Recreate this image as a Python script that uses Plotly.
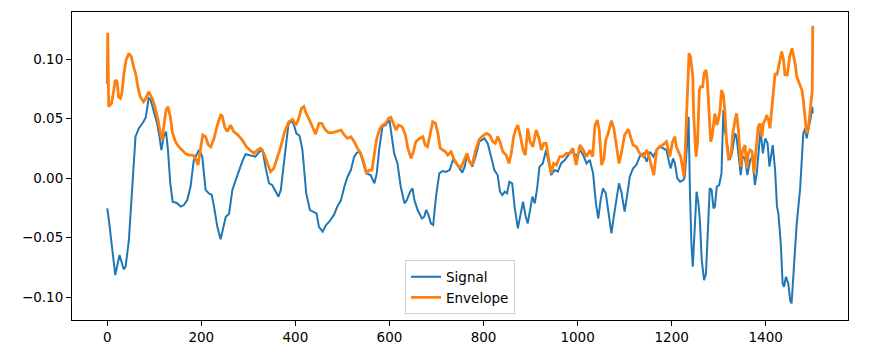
import plotly.graph_objects as go

# ---- data ----
sig_x = [0, 3, 17, 26, 35, 39, 46, 53, 60, 67, 77, 82, 88, 92, 99, 106, 111, 115, 120, 125, 129, 134, 139, 148,
         156, 163, 170, 177, 184, 188, 195, 202, 209, 216, 222, 227, 234, 241, 246, 252, 259, 266, 273, 280, 287,
         294, 305, 315, 323, 330, 337, 344, 351, 358, 364, 369, 376, 385, 392, 397, 402, 409, 415, 419, 423, 431,
         440, 445, 450, 458, 465, 472, 482, 489, 497, 504, 511, 518, 525, 531, 537, 544, 551, 560, 568, 573, 578,
         585, 592, 600, 605, 610, 617, 624, 632, 637, 644, 649, 653, 660, 669, 674, 678, 683, 688, 693, 699, 706,
         713, 720, 728, 735, 742, 749, 755, 760, 765, 770, 776, 783, 791, 802, 809, 816, 823, 830, 835, 840, 845,
         850, 855, 861, 866, 873, 878, 884, 889, 894, 899, 904, 909, 914, 919, 926, 933, 939, 944, 951, 958, 965,
         973, 983, 990, 997, 1005, 1012, 1019, 1026, 1033, 1039, 1044, 1049, 1054, 1060, 1065, 1072, 1077, 1083,
         1088, 1093, 1100, 1105, 1111, 1118, 1125, 1132, 1140, 1147, 1154, 1161, 1168, 1175, 1182, 1189, 1195,
         1198, 1203, 1207, 1212, 1218, 1225, 1228, 1233, 1236, 1239, 1242, 1245, 1249, 1253, 1257, 1260, 1264,
         1269, 1273, 1278, 1281, 1285, 1289, 1292, 1296, 1301, 1306, 1310, 1313, 1317, 1323, 1328, 1335, 1338,
         1342, 1347, 1351, 1356, 1361, 1367, 1372, 1377, 1381, 1387, 1389, 1394, 1399, 1404, 1408, 1415, 1420,
         1424, 1427, 1432, 1436, 1439, 1443, 1448, 1452, 1455, 1459, 1466, 1473, 1480, 1484, 1487, 1495, 1499, 1500]
sig_y = [-0.0255, -0.034, -0.0815, -0.0647, -0.0767, -0.0745, -0.052, -0.010, 0.0347, 0.0417, 0.0473, 0.0512,
         0.067, 0.066, 0.057, 0.0459, 0.0347, 0.0235, 0.0347, 0.039, 0.0235, -0.0045, -0.0199, -0.021, -0.024,
         -0.0227, -0.0185, -0.0073, 0.0151, 0.018, 0.0235, 0.018, -0.010, -0.0129, -0.014, -0.024, -0.041,
         -0.0515, -0.0437, -0.0325, -0.030, -0.010, -0.0017, 0.0067, 0.0137, 0.020, 0.0188, 0.018, 0.022, 0.0235,
         0.0081, -0.0045, -0.006, -0.0115, -0.0157, -0.010, 0.0123, 0.0445, 0.0487, 0.0445, 0.0375, 0.0353,
         0.0235, 0.0067, -0.0129, -0.0269, -0.0283, -0.0297, -0.041, -0.0451, -0.0395, -0.0367, -0.031, -0.024,
         -0.0185, -0.0073, 0.0011, 0.0067, 0.018, 0.0213, 0.0221, 0.0123, 0.0039, 0.0025, -0.0045, 0.0039, 0.0235,
         0.0431, 0.0445, 0.0487, 0.036, 0.0207, 0.0123, -0.0073, -0.0213, -0.0185, -0.0115, -0.0087, -0.0185,
         -0.0269, -0.034, -0.0325, -0.0269, -0.031, -0.0381, -0.0395, -0.0157, 0.0039, 0.0059, 0.0051, 0.0067,
         0.0151, 0.0123, 0.0081, 0.0045, 0.0095, 0.0193, 0.0151, 0.0095, 0.018, 0.0305, 0.0333, 0.0291, 0.018,
         0.0067, 0.0025, -0.0115, -0.0143, -0.0115, -0.0129, -0.0031, -0.0045, -0.024, -0.0423, -0.0325, -0.0199,
         -0.031, -0.0381, -0.0269, -0.0157, -0.0213, -0.0087, 0.0095, 0.0123, 0.0235, 0.0123, 0.0025, 0.0067,
         0.0053, 0.0123, 0.0151, 0.0207, 0.0221, 0.018, 0.0235, 0.0193, 0.0123, 0.0151, 0.0039, -0.0213, -0.034,
         -0.0185, -0.0087, -0.0129, -0.0269, -0.0465, -0.0325, -0.0157, -0.0045, -0.0115, -0.0283, -0.0157,
         0.0011, 0.0081, 0.0109, 0.018, 0.0207, 0.0137, 0.0221, 0.018, 0.0235, 0.0263, 0.025, 0.0235, 0.0123,
         0.0081, 0.0165, 0.0123, -0.0003, -0.0031, -0.0017, 0.0011, 0.0291, 0.0515, -0.0129, -0.055, -0.0746,
         -0.041, -0.0115, -0.0213, -0.0353, -0.069, -0.0858, -0.0802, -0.041, -0.0087, -0.0101, -0.0255, -0.0241,
         -0.0073, -0.0059, 0.0039, 0.0571, 0.0403, 0.0319, 0.0151, 0.0207, 0.0375, 0.0347, 0.018, 0.0025, 0.018,
         0.0165, 0.0025, 0.0151, 0.018, -0.0059, 0.0039, 0.0375, 0.0403, 0.0207, 0.0333, 0.0291, 0.0095, 0.0277,
         0.0067, -0.024, -0.0297, -0.055, -0.0886, -0.0914, -0.083, -0.0886, -0.1026, -0.1054, -0.0802, -0.0381,
         -0.0101, 0.0375, 0.0417, 0.0333, 0.0487, 0.0599, 0.0543]

env_x = [0, 1, 3, 9, 14, 17, 21, 24, 28, 31, 35, 40, 46, 51, 56, 61, 65, 70, 77, 82, 88, 92, 97, 102, 108, 113,
         117, 120, 125, 129, 134, 139, 145, 152, 159, 166, 173, 182, 188, 193, 198, 203, 209, 215, 220, 227, 234,
         241, 244, 250, 255, 262, 269, 278, 287, 296, 303, 312, 319, 326, 333, 340, 347, 354, 362, 369, 376, 386,
         394, 401, 406, 413, 418, 423, 430, 438, 443, 450, 456, 463, 470, 479, 489, 497, 504, 511, 518, 525, 532,
         539, 546, 551, 557, 563, 568, 573, 580, 585, 592, 598, 603, 608, 614, 619, 627, 634, 639, 646, 651, 656,
         664, 671, 676, 681, 686, 692, 698, 703, 708, 713, 719, 724, 731, 738, 745, 752, 760, 765, 770, 776, 783,
         791, 798, 806, 813, 820, 825, 830, 835, 841, 848, 854, 859, 864, 868, 873, 878, 884, 889, 894, 899, 905,
         912, 918, 923, 928, 933, 939, 944, 949, 955, 962, 969, 976, 983, 990, 997, 1005, 1012, 1019, 1026, 1032,
         1037, 1042, 1046, 1051, 1056, 1060, 1065, 1072, 1077, 1083, 1088, 1093, 1100, 1108, 1113, 1118, 1125,
         1132, 1140, 1147, 1152, 1157, 1162, 1168, 1174, 1181, 1189, 1193, 1196, 1202, 1207, 1210, 1216, 1219,
         1223, 1226, 1228, 1232, 1235, 1237, 1240, 1245, 1247, 1252, 1255, 1259, 1262, 1266, 1269, 1273, 1276,
         1280, 1283, 1286, 1289, 1292, 1296, 1299, 1303, 1306, 1310, 1313, 1317, 1321, 1326, 1330, 1335, 1338,
         1342, 1347, 1351, 1356, 1360, 1363, 1367, 1371, 1375, 1379, 1384, 1388, 1392, 1395, 1399, 1402, 1406,
         1409, 1413, 1416, 1420, 1424, 1427, 1431, 1434, 1438, 1441, 1446, 1451, 1456, 1459, 1463, 1466, 1470,
         1473, 1477, 1480, 1484, 1487, 1491, 1495, 1499, 1500]
env_y = [0.079, 0.122, 0.060, 0.0627, 0.074, 0.0824, 0.081, 0.0683, 0.067, 0.0711, 0.0866, 0.0992, 0.1048, 0.102,
         0.0936, 0.0866, 0.0768, 0.0683, 0.0641, 0.067, 0.0725, 0.0697, 0.0655, 0.0585, 0.0487, 0.0375, 0.0319,
         0.0431, 0.0571, 0.060, 0.0515, 0.0375, 0.0305, 0.0263, 0.0235, 0.0207, 0.0193, 0.0193, 0.0165, 0.0109,
         0.0235, 0.0361, 0.0347, 0.0277, 0.0263, 0.0333, 0.0445, 0.0529, 0.0525, 0.0425, 0.039, 0.0445, 0.039,
         0.0361, 0.0319, 0.0263, 0.0235, 0.0207, 0.0235, 0.025, 0.0207, 0.0123, 0.0053, 0.0081, 0.018, 0.0263,
         0.0375, 0.0473, 0.0493, 0.0445, 0.0487, 0.0585, 0.060, 0.0543, 0.0487, 0.0417, 0.0369, 0.0459, 0.0459,
         0.0409, 0.0381, 0.0381, 0.039, 0.0403, 0.0361, 0.0333, 0.0347, 0.0305, 0.025, 0.0207, 0.0123, 0.0039,
         0.0067, 0.0067, 0.0207, 0.0333, 0.0417, 0.0445, 0.0459, 0.0501, 0.051, 0.0459, 0.0403, 0.0445, 0.0431,
         0.0361, 0.025, 0.0165, 0.0221, 0.0305, 0.0333, 0.0347, 0.0277, 0.0263, 0.0361, 0.0473, 0.0459, 0.0375,
         0.025, 0.0235, 0.0221, 0.0193, 0.0221, 0.0151, 0.0109, 0.0087, 0.0165, 0.0207, 0.0137, 0.0109, 0.0235,
         0.0325, 0.0353, 0.0375, 0.0361, 0.0305, 0.0291, 0.0347, 0.0305, 0.0221, 0.0193, 0.0123, 0.0207, 0.0347,
         0.0403, 0.0445, 0.0361, 0.0235, 0.0193, 0.0417, 0.0305, 0.0263, 0.0403, 0.0333, 0.0235, 0.0291, 0.0291,
         0.0165, 0.0039, 0.0123, 0.0109, 0.018, 0.018, 0.0207, 0.0207, 0.025, 0.0109, 0.0277, 0.0235, 0.018,
         0.0235, 0.018, 0.0445, 0.0487, 0.0403, 0.0109, 0.0165, 0.0319, 0.0375, 0.0482, 0.0417, 0.0263, 0.0123,
         0.0207, 0.0361, 0.0409, 0.0347, 0.0277, 0.0263, 0.0207, 0.018, 0.0235, 0.018, 0.0095, 0.0025, 0.0235,
         0.0263, 0.0277, 0.0305, 0.0235, 0.018, 0.0305, 0.0347, 0.0263, 0.0207, 0.018, 0.0095, 0.0011, 0.0151,
         0.0571, 0.0852, 0.1048, 0.102, 0.0852, 0.0515, 0.018, 0.0291, 0.0739, 0.0768, 0.0768, 0.088, 0.0908,
         0.081, 0.0571, 0.0305, 0.0347, 0.0459, 0.0543, 0.0445, 0.0487, 0.0571, 0.0739, 0.0697, 0.0571, 0.0291,
         0.0165, 0.018, 0.0375, 0.0487, 0.0543, 0.0403, 0.0095, 0.0235, 0.0277, 0.0081, 0.0207, 0.0235, 0.0221,
         0.0039, 0.0207, 0.0431, 0.0459, 0.0347, 0.0459, 0.0487, 0.0529, 0.0487, 0.0417, 0.060, 0.0768, 0.088,
         0.0866, 0.0936, 0.1006, 0.1062, 0.0992, 0.0866, 0.0866, 0.102, 0.109, 0.1034, 0.095, 0.0852, 0.081,
         0.0782, 0.0739, 0.0655, 0.0487, 0.0375, 0.0431, 0.060, 0.0739, 0.128]

x_ticks = [0, 200, 400, 600, 800, 1000, 1200, 1400]
y_ticks = [-0.10, -0.05, 0.00, 0.05, 0.10]
y_tick_text = ["\u22120.10", "\u22120.05", "0.00", "0.05", "0.10"]

FONT = "DejaVu Sans"

fig = go.Figure()
fig.add_trace(go.Scatter(x=sig_x, y=sig_y, mode="lines", name="Signal",
                         line=dict(color="#1f77b4", width=2)))
fig.add_trace(go.Scatter(x=env_x, y=env_y, mode="lines", name="Envelope",
                         line=dict(color="#ff7f0e", width=2.8)))

axis_common = dict(showline=True, linecolor="black", linewidth=1, mirror=True,
                   ticks="outside", ticklen=5, tickwidth=1, tickcolor="black",
                   showgrid=False, zeroline=False,
                   tickfont=dict(family=FONT, size=13.5, color="black"))

# the page body has an 8px margin, so the figure is 8px smaller and its margins are shifted
fig.update_layout(
    width=865, height=355,
    margin=dict(l=64, r=25, t=4, b=43),
    paper_bgcolor="white", plot_bgcolor="white",
    font=dict(family=FONT, size=13.5, color="black"),
    xaxis=dict(range=[-75, 1575], tickvals=x_ticks, **axis_common),
    yaxis=dict(range=[-0.1193, 0.1395], tickvals=y_ticks, ticktext=y_tick_text, **axis_common),
    legend=dict(x=0.5, xanchor="center", y=0.018, yanchor="bottom",
                bgcolor="rgba(255,255,255,0.8)", bordercolor="#d0d0d0", borderwidth=1,
                font=dict(family=FONT, size=13.5, color="black")),
    showlegend=True,
)

fig.write_html("out.html")
